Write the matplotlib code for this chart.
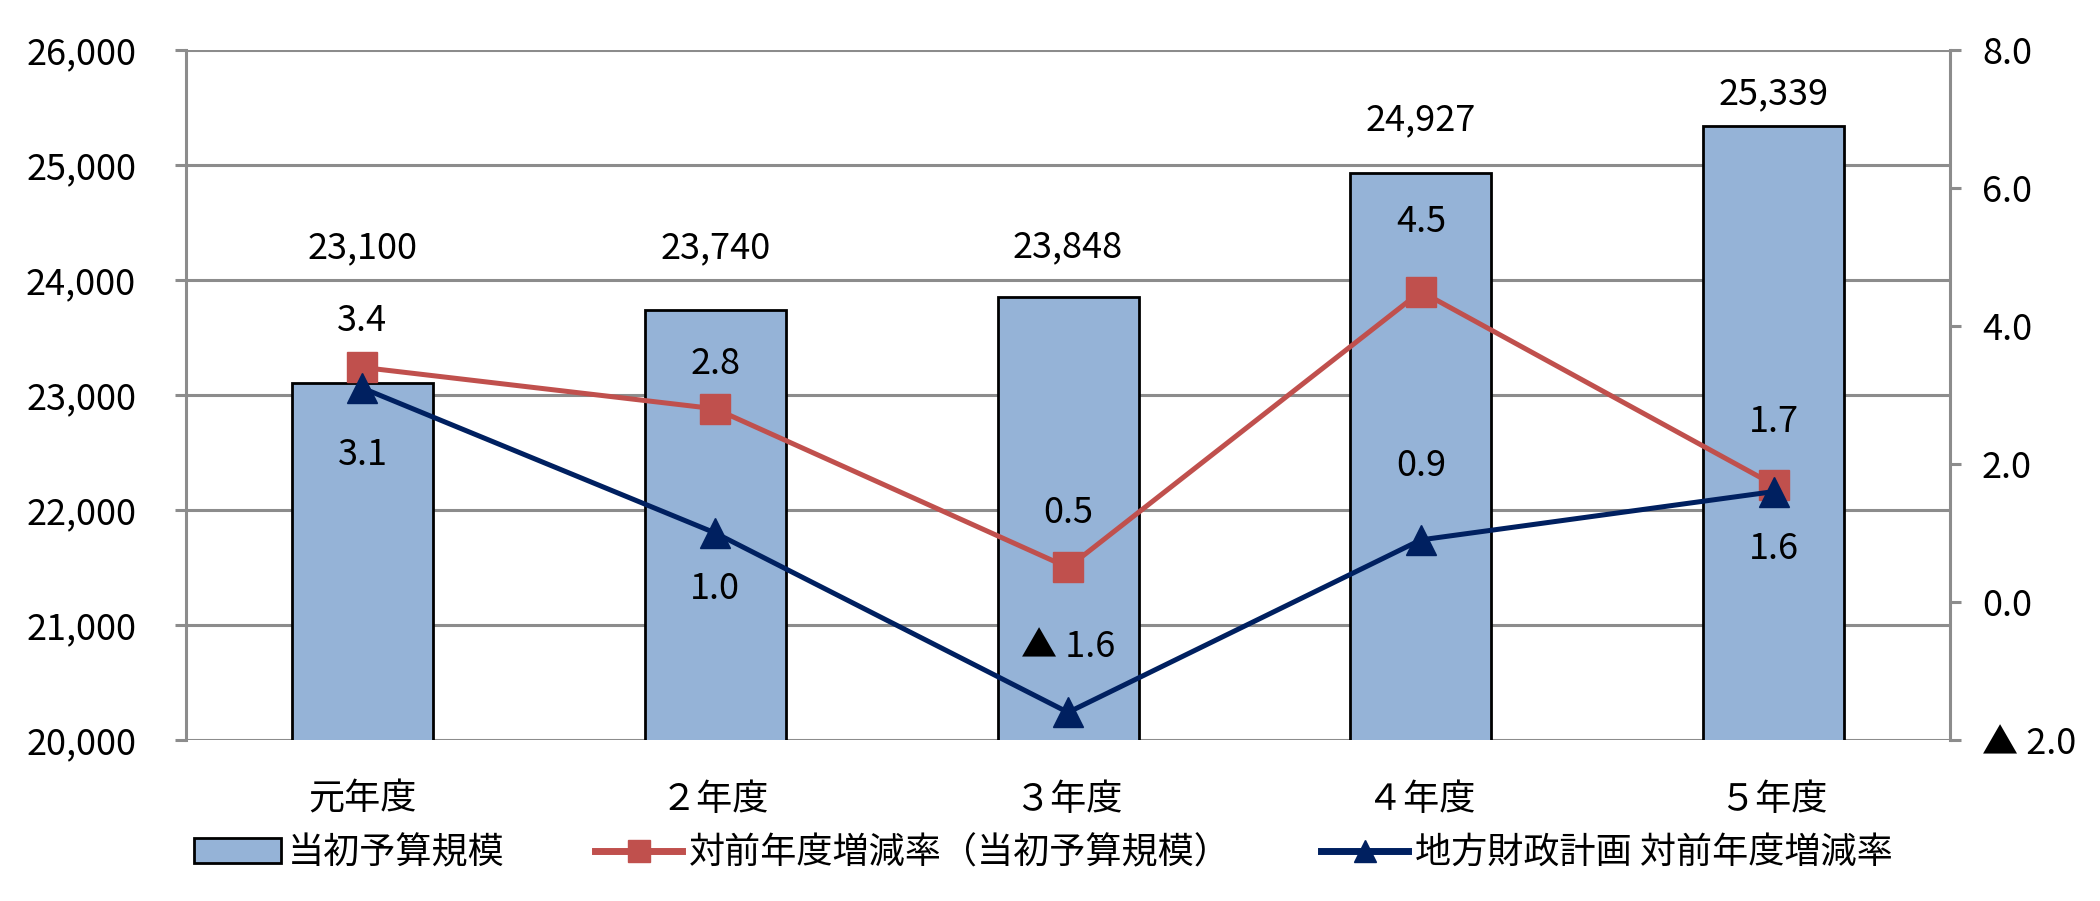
import numpy as np
import matplotlib
matplotlib.use("Agg")
import matplotlib.pyplot as plt
from matplotlib.lines import Line2D
from matplotlib.patches import Patch

plt.rcParams['font.family'] = ['Noto Sans CJK JP', 'DejaVu Sans']

categories = ["元年度", "２年度", "３年度", "４年度", "５年度"]
budget = [23100, 23740, 23848, 24927, 25339]
budget_rate = [3.4, 2.8, 0.5, 4.5, 1.7]
plan_rate = [3.1, 1.0, -1.6, 0.9, 1.6]

left_ticks = [20000, 21000, 22000, 23000, 24000, 25000, 26000]
right_ticks = [-2.0, 0.0, 2.0, 4.0, 6.0, 8.0]
right_labels = ["▲ 2.0", "0.0", "2.0", "4.0", "6.0", "8.0"]

# label offsets in pixels (hand placed in the original)
bar_off = [135, 62, 50, 53, 32]
red_off = [46, 45, 54, 70, 63]
navy_off = [-67, -56, 65, 74, -57]

RED = "#C0504D"
NAVY = "#002060"
BAR = "#95B3D7"
GRID = "#8C8C8C"
FS = 26

fig = plt.figure(figsize=(21, 9.01), dpi=100)
ax = fig.add_axes([0.0886, 0.1787, 0.84, 0.7658])
x = np.arange(len(categories))

ax.bar(x, budget, width=0.4, color=BAR, edgecolor="black", linewidth=2, zorder=2)
ax.set_ylim(20000, 26000)
ax.set_xlim(-0.5, len(categories) - 0.5)
ax.set_yticks(left_ticks)
ax.set_yticklabels([f"{v:,}" for v in left_ticks])
ax.set_xticks(x)
ax.set_xticklabels(categories)
ax.grid(axis="y", color=GRID, linewidth=2.2)
ax.set_axisbelow(True)
ax.tick_params(axis="y", labelsize=FS, length=8, width=2.2, color=GRID, pad=28)
ax.tick_params(axis="x", labelsize=FS, length=0, pad=30)
for s in ["top", "bottom", "right"]:
    ax.spines[s].set_visible(False)
ax.spines["left"].set_color(GRID)
ax.spines["left"].set_linewidth(2.2)

for xi, v, off in zip(x, budget, bar_off):
    ax.annotate(f"{v:,}", (xi, v), xytext=(0, off), textcoords="offset pixels",
                ha="center", va="center", fontsize=FS)

ax2 = ax.twinx()
ax2.set_ylim(-2, 8)
ax2.set_yticks(right_ticks)
ax2.set_yticklabels(right_labels)
ax2.tick_params(axis="y", labelsize=FS, length=8, width=2.2, color=GRID, pad=15)
for s in ["top", "bottom", "left"]:
    ax2.spines[s].set_visible(False)
ax2.spines["right"].set_color(GRID)
ax2.spines["right"].set_linewidth(2.2)

ax2.plot(x, budget_rate, color=RED, linewidth=3.6, marker="s", markersize=21,
         markerfacecolor=RED, markeredgecolor=RED, zorder=3)
ax2.plot(x, plan_rate, color=NAVY, linewidth=3.6, marker="^", markersize=21,
         markerfacecolor=NAVY, markeredgecolor=NAVY, zorder=3)

def fmt(v):
    return f"▲ {abs(v):.1f}" if v < 0 else f"{v:.1f}"

for xi, v, off in zip(x, budget_rate, red_off):
    ax2.annotate(fmt(v), (xi, v), xytext=(0, off), textcoords="offset pixels",
                 ha="center", va="center", fontsize=FS)
for xi, v, off in zip(x, plan_rate, navy_off):
    ax2.annotate(fmt(v), (xi, v), xytext=(0, off), textcoords="offset pixels",
                 ha="center", va="center", fontsize=FS)

handles = [
    Patch(facecolor=BAR, edgecolor="black", linewidth=2),
    Line2D([], [], color=RED, linewidth=5, marker="s", markersize=16),
    Line2D([], [], color=NAVY, linewidth=5, marker="^", markersize=16),
]
labels = ["当初予算規模", "対前年度増減率（当初予算規模）", "地方財政計画 対前年度増減率"]
fig.legend(handles, labels, loc="center", bbox_to_anchor=(0.497, 0.053), ncol=3,
           frameon=False, fontsize=FS, handlelength=2.4, handletextpad=0.2,
           columnspacing=2.5)

fig.savefig("out.png", dpi=100)
